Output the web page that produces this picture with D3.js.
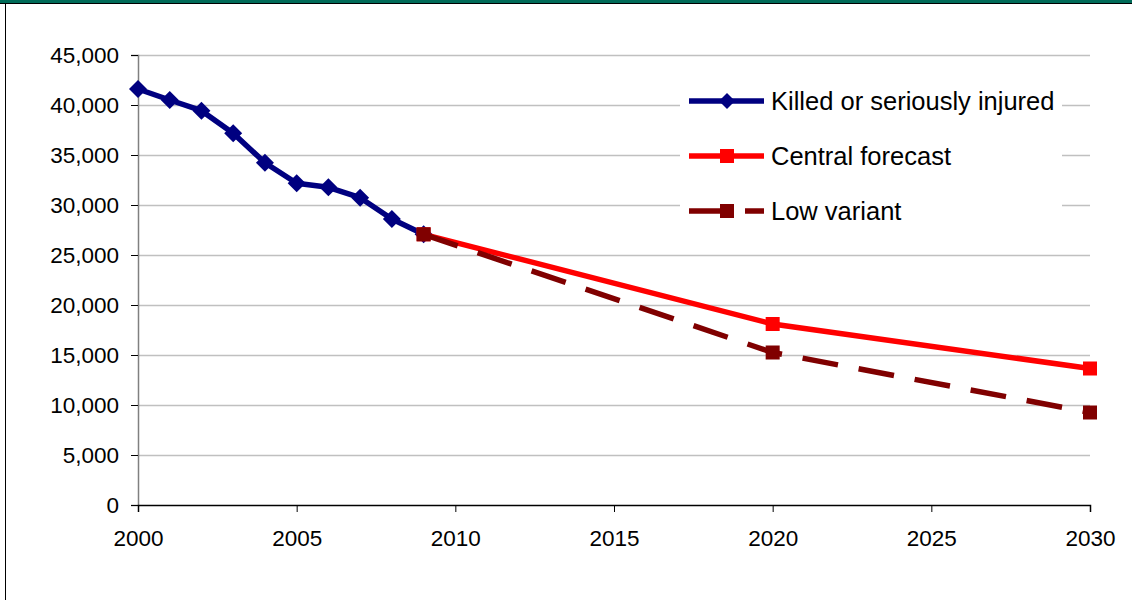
<!DOCTYPE html>
<meta charset="utf-8">
<script src="https://d3js.org/d3.v7.min.js"></script>
<style>
  body { margin: 0; background: #fff; }
  text { font-family: "Liberation Sans", Arial, sans-serif; }
</style>
<div id="my_dataviz"></div>
<script>

// data
var years = [2000, 2001, 2002, 2003, 2004, 2005, 2006, 2007, 2008, 2009];
var ksi = [41600, 40500, 39430, 37170, 34230, 32170, 31770, 30730, 28600, 27070];
var forecastYears = [2009, 2020, 2030];
var central = [27070, 18100, 13650];
var low = [27070, 15250, 9250];
var yTicks = [0, 5000, 10000, 15000, 20000, 25000, 30000, 35000, 40000, 45000];
var xTicks = [2000, 2005, 2010, 2015, 2020, 2025, 2030];
var legendLabels = ["Killed or seriously injured", "Central forecast", "Low variant"];

var W = 1132, H = 600;
var margin = {top: 55, right: 42, bottom: 95, left: 138},
    width = W - margin.left - margin.right,
    height = H - margin.top - margin.bottom;

var root = d3.select("#my_dataviz")
  .append("svg")
    .attr("width", W)
    .attr("height", H);

// frame: teal strip on top, black rule under it, black rule on the left
root.append("rect").attr("x", 0).attr("y", 0).attr("width", W).attr("height", 3).attr("fill", "#006b58");
root.append("line").attr("x1", 0).attr("x2", W).attr("y1", 3.5).attr("y2", 3.5).attr("stroke", "#000");
root.append("line").attr("x1", 5.5).attr("x2", 5.5).attr("y1", 3).attr("y2", H).attr("stroke", "#000");

var svg = root.append("g")
    .attr("transform", "translate(" + margin.left + "," + margin.top + ")");

var x = d3.scaleLinear().domain([2000, 2030]).range([0, width]);
var y = d3.scaleLinear().domain([0, 45000]).range([height, 0]);

// gridlines
svg.append("g")
  .selectAll("line")
  .data(yTicks.slice(1))
  .enter().append("line")
    .attr("x1", 0).attr("x2", width)
    .attr("y1", function(d) { return y(d) + 0.5; })
    .attr("y2", function(d) { return y(d) + 0.5; })
    .attr("stroke", "#c0c0c0")
    .attr("stroke-width", 1.5);

// y axis
var yAxis = svg.append("g")
  .call(d3.axisLeft(y).tickValues(yTicks).tickSize(7).tickPadding(12).tickFormat(d3.format(",")));
yAxis.attr("font-size", 22.5).attr("font-family", null);
yAxis.select(".domain").attr("stroke", "#808080").attr("stroke-width", 1.5);
yAxis.selectAll(".tick line").attr("stroke", "#000");
yAxis.selectAll("text").attr("fill", "#000");

// x axis
var xAxis = svg.append("g")
  .attr("transform", "translate(0," + height + ")")
  .call(d3.axisBottom(x).tickValues(xTicks).tickSize(7).tickPadding(18).tickFormat(d3.format("d")));
xAxis.attr("font-size", 22.5).attr("font-family", null);
xAxis.select(".domain").attr("stroke", "#000").attr("stroke-width", 1.5);
xAxis.selectAll(".tick line").attr("stroke", "#000");
xAxis.selectAll("text").attr("fill", "#000");

var line = d3.line()
  .x(function(d) { return x(d[0]); })
  .y(function(d) { return y(d[1]); });

var ksiPts = years.map(function(d, i) { return [d, ksi[i]]; });
var centralPts = forecastYears.map(function(d, i) { return [d, central[i]]; });
var lowPts = forecastYears.map(function(d, i) { return [d, low[i]]; });

var navy = "#000080", red = "#ff0000", darkred = "#800000";

// killed or seriously injured
svg.append("path").datum(ksiPts)
  .attr("d", line).attr("fill", "none").attr("stroke", navy).attr("stroke-width", 5.5)
  .attr("stroke-linejoin", "round");
svg.selectAll(".ksi").data(ksiPts).enter().append("path")
  .attr("class", "ksi")
  .attr("transform", function(d) { return "translate(" + x(d[0]) + "," + y(d[1]) + ")"; })
  .attr("d", "M0,-9L9,0L0,9L-9,0Z")
  .attr("fill", navy);

// central forecast
svg.append("path").datum(centralPts)
  .attr("d", line).attr("fill", "none").attr("stroke", red).attr("stroke-width", 5.5);
svg.selectAll(".central").data(centralPts).enter().append("rect")
  .attr("class", "central")
  .attr("x", function(d) { return x(d[0]) - 7; })
  .attr("y", function(d) { return y(d[1]) - 7; })
  .attr("width", 14).attr("height", 14)
  .attr("fill", red);

// low variant
svg.append("path").datum(lowPts)
  .attr("d", line).attr("fill", "none").attr("stroke", darkred).attr("stroke-width", 5.5)
  .attr("stroke-dasharray", "36,21");
svg.selectAll(".low").data(lowPts).enter().append("rect")
  .attr("class", "low")
  .attr("x", function(d) { return x(d[0]) - 7; })
  .attr("y", function(d) { return y(d[1]) - 7; })
  .attr("width", 14).attr("height", 14)
  .attr("fill", darkred);

// legend
var legend = root.append("g").attr("transform", "translate(680,78)");
legend.append("rect").attr("x", 0).attr("y", 0).attr("width", 382).attr("height", 155).attr("fill", "#fff");
var rows = legend.selectAll(".row").data(legendLabels).enter().append("g")
  .attr("transform", function(d, i) { return "translate(0," + (23 + i * 55) + ")"; });
rows.append("line")
  .attr("x1", 9).attr("x2", 84).attr("y1", 0).attr("y2", 0)
  .attr("stroke", function(d, i) { return [navy, red, darkred][i]; })
  .attr("stroke-width", 5.5)
  .attr("stroke-dasharray", function(d, i) { return i === 2 ? "36,20" : null; });
rows.each(function(d, i) {
  var g = d3.select(this);
  if (i === 0) {
    g.append("path").attr("d", "M47,-8L55,0L47,8L39,0Z").attr("fill", navy);
  } else {
    g.append("rect").attr("x", 40).attr("y", -7).attr("width", 14).attr("height", 14)
      .attr("fill", i === 1 ? red : darkred);
  }
});
rows.append("text")
  .attr("x", 91).attr("y", 9)
  .attr("font-size", 25.5)
  .attr("fill", "#000")
  .text(function(d) { return d; });

</script>
</body>
</html>
